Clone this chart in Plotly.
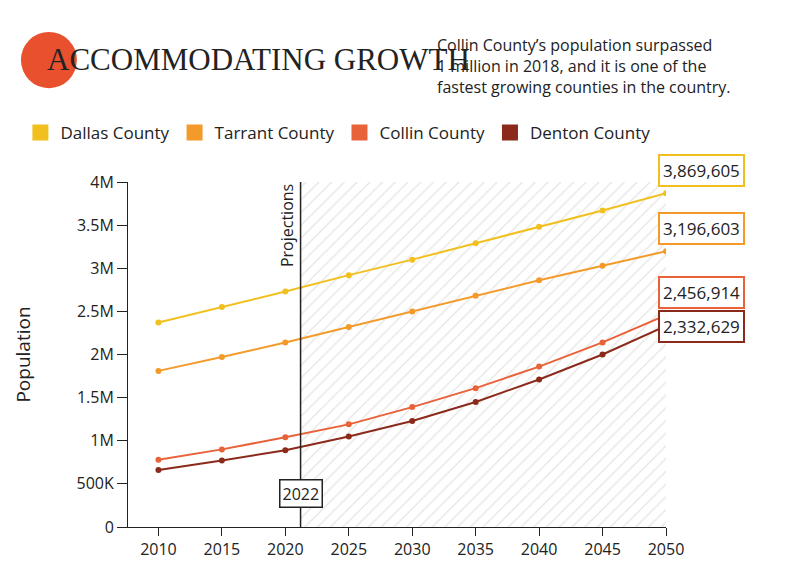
import plotly.graph_objects as go

# ============================================================================
# DATA
# ============================================================================

YEARS = [2010, 2015, 2020, 2025, 2030, 2035, 2040, 2045, 2050]
COUNTIES = ["Dallas County", "Tarrant County", "Collin County", "Denton County"]
COLORS = ["#F2C01E", "#F39A2B", "#E8623A", "#8B2A1A"]

dallas = [2.37e6, 2.55e6, 2.73e6, 2.92e6, 3.10e6, 3.29e6, 3.48e6, 3.67e6, 3869605]
tarrant = [1.81e6, 1.97e6, 2.14e6, 2.32e6, 2.50e6, 2.68e6, 2.86e6, 3.03e6, 3196603]
collin = [0.78e6, 0.90e6, 1.04e6, 1.19e6, 1.39e6, 1.61e6, 1.86e6, 2.14e6, 2456914]
denton = [0.66e6, 0.77e6, 0.89e6, 1.05e6, 1.23e6, 1.45e6, 1.71e6, 2.00e6, 2332629]
SERIES = [dallas, tarrant, collin, denton]
LABEL_SHIFT = [6, 6, 6, -17]  # vertical offset of end labels (px)

Y_TICKS = [0, 5e5, 1e6, 1.5e6, 2e6, 2.5e6, 3e6, 3.5e6, 4e6]
Y_TICK_TEXT = ["0", "500K", "1M", "1.5M", "2M", "2.5M", "3M", "3.5M", "4M"]

PROJ_START = 2021.2

FONT = "Open Sans"

# ============================================================================
# CHART
# ============================================================================

fig = go.Figure()

# hatched projections area
fig.add_trace(go.Scatter(
    x=[PROJ_START, 2050, 2050, PROJ_START, PROJ_START],
    y=[0, 0, 4e6, 4e6, 0],
    fill="toself", mode="none", fillcolor="rgba(255,255,255,0)",
    fillpattern=dict(shape="/", fgcolor="#cccccc", bgcolor="white", size=9, solidity=0.15),
    showlegend=False, hoverinfo="skip"
))

for name, color, vals, shift in zip(COUNTIES, COLORS, SERIES, LABEL_SHIFT):
    fig.add_trace(go.Scatter(
        x=YEARS, y=vals, mode="lines+markers", name=name,
        line=dict(color=color, width=2), marker=dict(size=6, color=color),
        showlegend=False
    ))
    # legend entry with square swatch
    fig.add_trace(go.Scatter(
        x=[None], y=[None], mode="markers", name=name,
        marker=dict(symbol="square", size=18, color=color)
    ))
    fig.add_annotation(
        x=YEARS[-1], y=vals[-1], text=f"{vals[-1]:,}", showarrow=False,
        xanchor="left", yanchor="bottom", xshift=-8, yshift=shift,
        bordercolor=color, borderwidth=2, borderpad=3, bgcolor="white",
        font=dict(size=17, color="#222")
    )

fig.add_shape(type="line", x0=PROJ_START, x1=PROJ_START, y0=0, y1=4e6,
              line=dict(color="#222", width=1.5))
fig.add_annotation(x=PROJ_START, y=4e6, text="Projections", textangle=-90,
                   showarrow=False, xanchor="right", yanchor="top", xshift=-1,
                   font=dict(size=16, color="#222"))
fig.add_annotation(x=PROJ_START, y=0.39e6, text="2022", showarrow=False,
                   bordercolor="#222", borderwidth=1.5, borderpad=2, bgcolor="white",
                   font=dict(size=16, color="#222"))

# title block
fig.add_shape(type="circle", xref="paper", yref="paper",
              x0=-0.199, x1=-0.095, y0=1.272, y1=1.435,
              fillcolor="#E8502E", line=dict(width=0), layer="below")
fig.add_annotation(xref="paper", yref="paper", x=-0.155, y=1.354, text="ACCOMMODATING GROWTH",
                   showarrow=False, xanchor="left", yanchor="middle",
                   font=dict(family="Liberation Sans Narrow", size=31, color="#222"))
fig.add_annotation(xref="paper", yref="paper", x=0.57, y=1.336,
                   text="Collin County’s population surpassed<br>1 million in 2018, and it is one of the<br>fastest growing counties in the country.",
                   showarrow=False, xanchor="left", yanchor="middle", align="left",
                   font=dict(size=16, color="#222"))

fig.update_layout(
    width=800, height=579,
    paper_bgcolor="white", plot_bgcolor="white",
    font=dict(family=FONT, size=16, color="#222"),
    margin=dict(l=120, r=142, t=174, b=60),
    legend=dict(orientation="h", x=-0.2, y=1.142, xanchor="left", yanchor="middle",
                font=dict(size=17), itemwidth=30, tracegroupgap=0),
    xaxis=dict(range=[2007.6, 2050], tickvals=YEARS, ticks="outside", ticklen=8,
               showgrid=False, zeroline=False, showline=True, linecolor="#222",
               tickcolor="#222"),
    yaxis=dict(range=[0, 4e6], tickvals=Y_TICKS, ticktext=Y_TICK_TEXT,
               ticks="outside", ticklen=10, showgrid=False, zeroline=False,
               showline=True, linecolor="#222", tickcolor="#222",
               title=dict(text="Population", standoff=40)),
)

fig.write_html("out.html")
